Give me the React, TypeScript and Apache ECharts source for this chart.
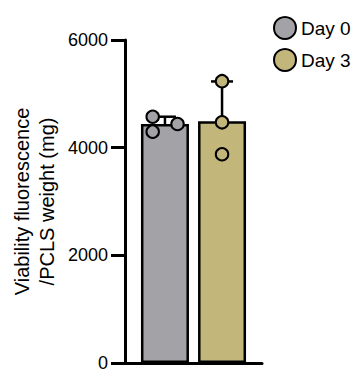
import React, { useEffect, useRef } from "react";
import * as echarts from "echarts";

const groups = ["Day 0", "Day 3"];
const groupColors = ["#a3a2a7", "#c2b67b"];
const barMeans = [4440, 4490];
const barSD = [135, 740];
const day0Values = [4575, 4297, 4440];
const day0Offsets = [-0.215, -0.215, 0.22];
const day3Values = [5235, 4471, 3877];
const day3Offsets = [0, 0, 0];
const yTicks = [0, 2000, 4000, 6000];
const yTitle = "Viability fluorescence\n/PCLS weight (mg)";

const FONT = "Liberation Sans, Arial, Helvetica, sans-serif";

export default function App() {
  const ref = useRef<HTMLDivElement>(null);
  useEffect(() => {
    if (!ref.current) return;
    const chart = echarts.init(ref.current, null, { renderer: "svg" });
    const pointSets = [
      { vals: day0Values, offs: day0Offsets },
      { vals: day3Values, offs: day3Offsets },
    ];
    const barSeries = groups.map((g, i) => ({
      type: "bar",
      name: g,
      data: [[i + 1, barMeans[i]]],
      barWidth: 48,
      barGap: "-100%",
      itemStyle: { color: groupColors[i], borderColor: "#000", borderWidth: 2.5 },
      z: 2,
    }));
    const scatterSeries = groups.map((g, i) => ({
      type: "scatter",
      name: g,
      data: pointSets[i].vals.map((v, k) => [i + 1 + pointSets[i].offs[k], v]),
      symbol: "circle",
      symbolSize: 12.5,
      itemStyle: { color: groupColors[i], borderColor: "#000", borderWidth: 2, opacity: 1 },
      z: 5,
    }));
    const errSeries = {
      type: "custom",
      name: "err",
      data: groups.map((_, i) => [i + 1, barMeans[i], barMeans[i] + barSD[i]]),
      z: 4,
      renderItem: (params: any, api: any) => {
        const x = api.value(0);
        const lo = api.coord([x, api.value(1)]);
        const hi = api.coord([x, api.value(2)]);
        const hw = 11;
        const style = { stroke: "#000", lineWidth: 2.5 };
        return {
          type: "group",
          children: [
            { type: "line", shape: { x1: lo[0], y1: lo[1], x2: hi[0], y2: hi[1] }, style },
            { type: "line", shape: { x1: hi[0] - hw, y1: hi[1], x2: hi[0] + hw, y2: hi[1] }, style },
          ],
        };
      },
    };
    chart.setOption({
      animation: false,
      textStyle: { fontFamily: FONT },
      legend: {
        orient: "vertical",
        left: 268,
        top: 11,
        itemWidth: 22,
        itemHeight: 22,
        itemGap: 8,
        data: groups.map((g) => ({ name: g, icon: "circle" })),
        textStyle: { fontSize: 19, color: "#000", fontFamily: FONT },
        selectedMode: false,
      },
      grid: { left: 125, right: 90, top: 40, bottom: 10 },
      xAxis: {
        type: "value",
        min: 0.3,
        max: 2.7,
        axisLine: { show: true, lineStyle: { color: "#000", width: 3 } },
        axisTick: { show: false },
        axisLabel: { show: false },
        splitLine: { show: false },
      },
      yAxis: {
        type: "value",
        min: yTicks[0],
        max: yTicks[yTicks.length - 1],
        interval: yTicks[1] - yTicks[0],
        name: yTitle,
        nameLocation: "middle",
        nameRotate: 90,
        nameGap: 66,
        nameTextStyle: { fontSize: 20, color: "#000", fontFamily: FONT, lineHeight: 25 },
        axisLine: { show: true, lineStyle: { color: "#000", width: 3 } },
        axisTick: { show: true, length: 14, lineStyle: { color: "#000", width: 3 } },
        axisLabel: { fontSize: 18, color: "#000", margin: 17, fontFamily: FONT, formatter: (v: number) => String(v) },
        splitLine: { show: false },
      },
      series: [...barSeries, errSeries, ...scatterSeries],
    });
    return () => chart.dispose();
  }, []);
  return <div ref={ref} style={{ width: 352, height: 373, position: "absolute", left: 0, top: 0 }} />;
}
